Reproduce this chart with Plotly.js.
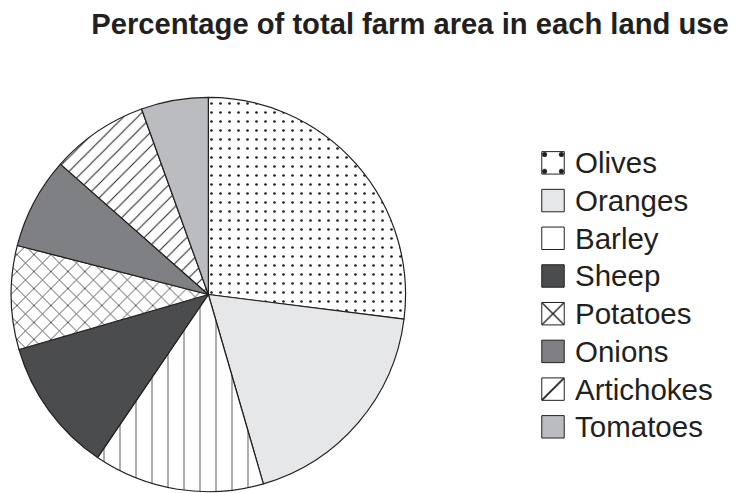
<!DOCTYPE html>
<html>
<head>
<meta charset="utf-8">
<script src="https://cdn.plot.ly/plotly-3.0.1.min.js"></script>
<style>html,body{margin:0;padding:0;background:#fff;}#chart{width:735px;height:493px;}</style>
</head>
<body>
<div id="chart"></div>
<script>
const landUses = ["Olives", "Oranges", "Barley", "Sheep", "Potatoes", "Onions", "Artichokes", "Tomatoes"];
const percentages = [27, 18.5, 14, 11, 8.5, 7.5, 8, 5.5];
const fillColors = ["#ffffff", "#e6e7e8", "#ffffff", "#4b4c4e", "#ffffff", "#7f8083", "#ffffff", "#bbbcbf"];
const patternShapes = [".", "", "|", "", "x", "", "/", ""];
const patternFg = ["#231f20", "#231f20", "#808080", "#231f20", "#231f20", "#231f20", "#231f20", "#231f20"];
const patternSizes = [9, 10, 16, 10, 12, 10, 10, 10];
const patternSolidity = [0.07, 0.3, 0.08, 0.3, 0.12, 0.3, 0.1, 0.3];

const trace = {
  type: "pie",
  labels: landUses.map(function (s) { return '<span style="font-size:29.5px">' + s + '</span>'; }),
  values: percentages,
  sort: false,
  direction: "clockwise",
  rotation: 0,
  textinfo: "none",
  hoverinfo: "percent",
  domain: {x: [10.7/735, 406/735], y: [1.3/493, 1 - 97.3/493]},
  marker: {
    colors: fillColors,
    line: {color: "#231f20", width: 1.2},
    pattern: {
      shape: patternShapes,
      fgcolor: patternFg,
      bgcolor: fillColors,
      size: patternSizes,
      solidity: patternSolidity,
      fillmode: "replace"
    }
  }
};

const layout = {
  width: 735,
  height: 493,
  margin: {l: 0, r: 0, t: 0, b: 0},
  paper_bgcolor: "#ffffff",
  font: {family: "Liberation Sans, Arial, sans-serif", color: "#231f20"},
  title: {
    text: "<b>Percentage of total farm area in each land use</b>",
    font: {size: 29.2, family: "Liberation Sans, Arial, sans-serif", color: "#231f20"},
    x: 410/735, xanchor: "center", xref: "paper",
    y: 1 - 14/493, yanchor: "top", yref: "container"
  },
  showlegend: true,
  legend: {
    x: 531/735, xanchor: "left",
    y: 1 - 139/493, yanchor: "top",
    font: {size: 26.7, family: "Liberation Sans, Arial, sans-serif", color: "#231f20"},
    itemwidth: 34,
    bgcolor: "rgba(0,0,0,0)"
  }
};

Plotly.newPlot("chart", [trace], layout, {displayModeBar: false, staticPlot: true}).then(function () {
  document.querySelectorAll("#chart .legendpoints path").forEach(function (p) {
    const t = p.getAttribute("transform") || "";
    p.setAttribute("transform", t + " scale(1.87)");
    p.style.vectorEffect = "non-scaling-stroke";
    p.style.strokeWidth = "1px";
  });
});
</script>
</body>
</html>
